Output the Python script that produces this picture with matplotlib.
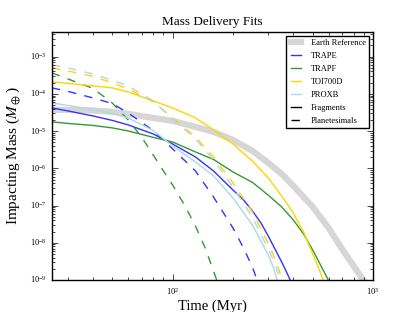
import numpy as np
import matplotlib
matplotlib.use('Agg')
import matplotlib.pyplot as plt

plt.style.use('classic')
plt.rcParams['font.family'] = 'serif'
plt.rcParams['font.serif'] = ['Liberation Serif', 'DejaVu Serif']
plt.rcParams['mathtext.fontset'] = 'stix'

# 读图得到的数据 (时间 Myr, 质量 M_earth)
earth_t = [25, 30, 40, 50, 60, 80, 100, 130, 160, 200, 250, 300, 350, 400, 500, 600, 700, 800, 900]
earth_m = [3.72e-5, 3.72e-5, 3.6e-5, 3.28e-5, 2.9e-5, 2.26e-5, 1.88e-5, 1.30e-5, 9.5e-6, 5.8e-6,
           2.94e-6, 1.40e-6, 7.1e-7, 3.37e-7, 9.2e-8, 2.50e-8, 6.8e-9, 2.38e-9, 9.4e-10]

# 碎片 (Fragments)
trape_frag_t = [25, 30, 40, 50, 60, 80, 100, 130, 160, 200, 225, 250, 275, 300, 350, 370, 386]
trape_frag_m = [4.2e-5, 3.49e-5, 2.56e-5, 1.94e-5, 1.47e-5, 8.4e-6, 4.5e-6, 2.02e-6, 8.5e-7,
                2.62e-7, 1.45e-7, 7.2e-8, 3.5e-8, 1.52e-8, 3.05e-9, 1.64e-9, 1e-9]
trapf_frag_t = [25, 30, 40, 50, 60, 80, 100, 130, 160, 200, 250, 300, 350, 400, 450, 500, 550, 598]
trapf_frag_m = [1.77e-5, 1.61e-5, 1.42e-5, 1.22e-5, 1.01e-5, 6.8e-6, 5.1e-6, 2.76e-6, 1.73e-6,
                8.0e-7, 4.2e-7, 1.9e-7, 9.2e-8, 4.1e-8, 1.73e-8, 6.4e-9, 2.38e-9, 1e-9]
toi_frag_t = [25, 30, 40, 50, 60, 80, 100, 130, 160, 200, 250, 300, 350, 400, 450, 500, 530, 564]
toi_frag_m = [2.10e-4, 1.91e-4, 1.64e-4, 1.45e-4, 1.13e-4, 6.5e-5, 4.2e-5, 2.26e-5, 1.08e-5,
              4.5e-6, 1.58e-6, 5.5e-7, 1.81e-7, 6.3e-8, 1.95e-8, 5.0e-9, 2.38e-9, 1e-9]
proxb_frag_t = [25, 30, 40, 50, 60, 80, 100, 130, 160, 200, 250, 300, 320, 332]
proxb_frag_m = [5.7e-5, 4.9e-5, 3.8e-5, 3.0e-5, 2.26e-5, 1.04e-5, 4.0e-6, 1.49e-6, 6.3e-7,
                1.60e-7, 3.0e-8, 4.7e-9, 2.0e-9, 1e-9]

# 星子 (Planetesimals)
trape_plan_t = [25, 30, 40, 50, 60, 80, 100, 130, 160, 200, 225, 250, 264]
trape_plan_m = [1.45e-4, 1.17e-4, 7.8e-5, 5.5e-5, 3.08e-5, 1.04e-5, 3.33e-6, 8.5e-7, 1.70e-7,
                2.50e-8, 7.5e-9, 2.23e-9, 1e-9]
trapf_plan_t = [25, 30, 40, 50, 60, 70, 80, 90, 100, 115, 130, 145, 160, 166]
trapf_plan_m = [3.67e-4, 2.53e-4, 1.41e-4, 5.7e-5, 2.0e-5, 7.0e-6, 2.29e-6, 8.5e-7, 3.58e-7,
                1.0e-7, 2.83e-8, 7.5e-9, 1.75e-9, 1e-9]
toi_plan_t = [25, 30, 40, 50, 60, 80, 100, 130, 160, 200, 250, 300, 330, 352]
toi_plan_m = [5.0e-4, 4.15e-4, 2.95e-4, 1.98e-4, 1.36e-4, 6.1e-5, 2.26e-5, 7.0e-6, 2.02e-6,
              4.06e-7, 6.7e-8, 9.6e-9, 3.0e-9, 1e-9]
proxb_plan_t = [25, 30, 40, 50, 60, 80, 100, 130, 160, 200, 250, 300, 325, 344]
proxb_plan_m = [6.0e-4, 5.0e-4, 3.45e-4, 2.31e-4, 1.64e-4, 6.5e-5, 2.13e-5, 6.2e-6, 1.68e-6,
                3.16e-7, 4.9e-8, 6.8e-9, 2.6e-9, 1e-9]

names = ['TRAPE', 'TRAPF', 'TOI700D', 'PROXB']
colors = ['#3333ff', '#339933', '#ffd400', '#add8e6']
frag = [(trape_frag_t, trape_frag_m), (trapf_frag_t, trapf_frag_m),
        (toi_frag_t, toi_frag_m), (proxb_frag_t, proxb_frag_m)]
plan = [(trape_plan_t, trape_plan_m), (trapf_plan_t, trapf_plan_m),
        (toi_plan_t, toi_plan_m), (proxb_plan_t, proxb_plan_m)]

fig = plt.figure(figsize=(4.15, 3.12), dpi=100, facecolor='white')
ax = fig.add_axes([0.125, 0.1026, 0.774, 0.796])

ax.plot(earth_t, earth_m, color='#d6d6d6', lw=4.5, label='Earth Reference')
for name, c, (ft, fm), (pt, pm) in zip(names, colors, frag, plan):
    ax.plot(ft, fm, '-', color=c, lw=1, label=name)
    ax.plot(pt, pm, '--', color=c, lw=1)
ax.plot([], [], 'k-', lw=1, label='Fragments')
ax.plot([], [], 'k--', lw=1, label='Planetesimals')

ax.set_xscale('log')
ax.set_yscale('log')
ax.set_xlim(25, 1000)
ax.set_ylim(1e-9, 4.7e-3)
ax.tick_params(labelsize=6)
ax.set_xlabel('Time (Myr)', fontsize=10.5, labelpad=2)
ax.set_ylabel(r'Impacting Mass ($M_\oplus$)', fontsize=11)
ax.set_title('Mass Delivery Fits', fontsize=9.5)
leg = ax.legend(loc='upper right', fontsize=6, handlelength=1.8, labelspacing=0.6)
leg.get_frame().set_edgecolor('black')

fig.savefig('out.png', dpi=100, facecolor='white')
